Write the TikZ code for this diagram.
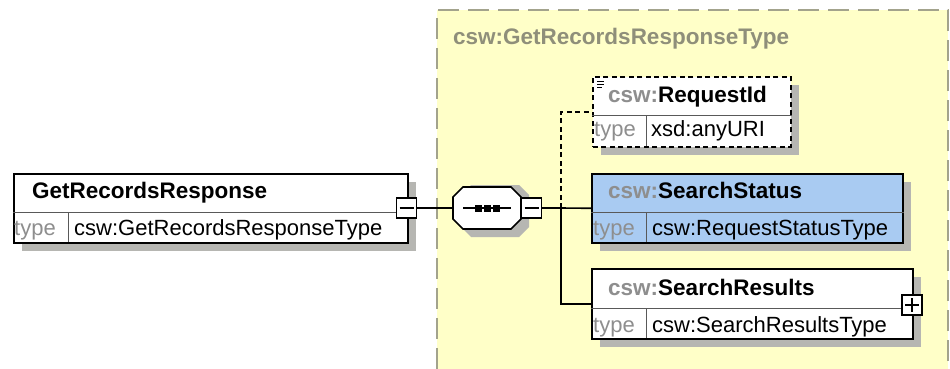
\documentclass[tikz,border=0pt]{standalone}
\usepackage{fontspec}
\setmainfont{Liberation Sans}
\usetikzlibrary{calc,shadows}
\definecolor{ybg}{HTML}{FFFFC8}
\definecolor{yborder}{HTML}{A3A38C}
\definecolor{sblue}{HTML}{A9CBF2}
\definecolor{shad}{HTML}{B6B6B2}
\definecolor{tgray}{HTML}{8E8E8E}
\definecolor{cgray}{HTML}{8F8F7A}
\begin{document}
\begin{tikzpicture}[x=1pt,y=-1pt,
  elem/.style={draw=black,line width=1.6pt,fill=white,inner sep=0pt,anchor=north west,
    drop shadow={shadow xshift=8pt,shadow yshift=-8pt,fill=shad,opacity=1}},
  pmbox/.style={draw=black,line width=1.5pt,fill=white,inner sep=0pt,minimum size=20pt},
  divline/.style={draw=black!65,line width=1pt},
  conn/.style={draw=black,line width=1.6pt},
  dconn/.style={draw=black,line width=1.6pt,dash pattern=on 5pt off 3.5pt},
  reg/.style={inner sep=0pt,anchor=base west,font=\fontsize{22}{26}\selectfont},
  bld/.style={inner sep=0pt,anchor=base west,font=\fontsize{22.5}{26}\selectfont\bfseries},
]
\useasboundingbox (0,0) rectangle (950,369);

% container
\fill[ybg] (437,10) rectangle (948,369);
\draw[yborder,line width=2pt,dash pattern=on 21pt off 9pt] (437,369) -- (437,10) -- (948,10) -- (948,369);
\node[bld,text=cgray] (ctitle) at (453,45) {csw:GetRecordsResponseType};

\coordinate (jn) at (561,208);

% GetRecordsResponse
\node[elem,minimum width=394pt,minimum height=69pt] (grr) at (13,173) {};
\draw[divline] (grr.west |- 0,212) -- (grr.east |- 0,212);
\draw[divline] (68,212) -- (68,242);
\node[bld] (grrname) at (32,198) {GetRecordsResponse};
\node[reg,text=tgray] (grrtype) at (14,235) {type};
\node[reg] (grrval) at (74,235) {csw:GetRecordsResponseType};

% sequence compositor
\node[inner sep=0pt,minimum width=68pt,minimum height=42pt] (seq) at (487,208) {};
\fill[shad] (461,195)--(471,185)--(519,185)--(529,195)--(529,227)--(519,237)--(471,237)--(461,227)--cycle;
\filldraw[fill=white,draw=black,line width=1.6pt] (453,197)--(463,187)--(511,187)--(521,197)--(521,219)--(511,229)--(463,229)--(453,219)--cycle;
\draw[line width=1.5pt] (463,208) -- (511,208);
\fill (474.5,204.5) rectangle (481.5,211.5);
\fill (483.5,204.5) rectangle (490.5,211.5);
\fill (492.5,204.5) rectangle (499.5,211.5);
\node[pmbox] (seqm) at (531.5,208) {};
\draw[line width=1.5pt] ($(seqm.center)+(-7,0)$) -- ($(seqm.center)+(7,0)$);

% connectors
\draw[conn] (seqm.east) -- (jn);
\node[pmbox] (grrm) at (406.5,208) {};
\draw[line width=1.5pt] ($(grrm.center)+(-7,0)$) -- ($(grrm.center)+(7,0)$);
\draw[conn] (grrm.east) -- (seq.west);

% RequestId
\node[elem,dash pattern=on 5pt off 3.5pt,minimum width=198pt,minimum height=70pt] (rq) at (592,76) {};
\draw[dconn] (jn) |- (rq.west);
\draw[divline] (rq.west |- 0,115) -- (rq.east |- 0,115);
\draw[divline] (646,115) -- (646,146);
\draw[line width=0.9pt] (597,81) -- (604,81) (597,84) -- (604,84) (597,87) -- (602,87);
\node[bld] (rqname) at (608,102) {\textcolor{tgray}{csw:}RequestId};
\node[reg,text=tgray] (rqtype) at (594,136) {type};
\node[reg] (rqval) at (651,136) {xsd:anyURI};

% SearchStatus
\node[elem,fill=sblue,minimum width=311pt,minimum height=69pt] (ss) at (591,173) {};
\draw[conn] (jn) -- (ss.west);
\draw[divline] (ss.west |- 0,212) -- (ss.east |- 0,212);
\draw[divline] (646,212) -- (646,242);
\node[bld] (ssname) at (608,198) {\textcolor{tgray}{csw:}SearchStatus};
\node[reg,text=tgray] (sstype) at (593,235) {type};
\node[reg] (ssval) at (652,235) {csw:RequestStatusType};

% SearchResults
\node[elem,minimum width=321pt,minimum height=70pt] (sr) at (591,268) {};
\draw[conn] (jn) |- (sr.west);
\draw[divline] (sr.west |- 0,308) -- (sr.east |- 0,308);
\draw[divline] (646,308) -- (646,338);
\node[bld] (srname) at (608,295) {\textcolor{tgray}{csw:}SearchResults};
\node[reg,text=tgray] (srtype) at (593,332) {type};
\node[reg] (srval) at (652,332) {csw:SearchResultsType};
\node[pmbox] (srp) at (912,305) {};
\draw[line width=1.5pt] ($(srp.center)+(-7,0)$) -- ($(srp.center)+(7,0)$) ($(srp.center)+(0,-7)$) -- ($(srp.center)+(0,7)$);
\end{tikzpicture}
\end{document}
